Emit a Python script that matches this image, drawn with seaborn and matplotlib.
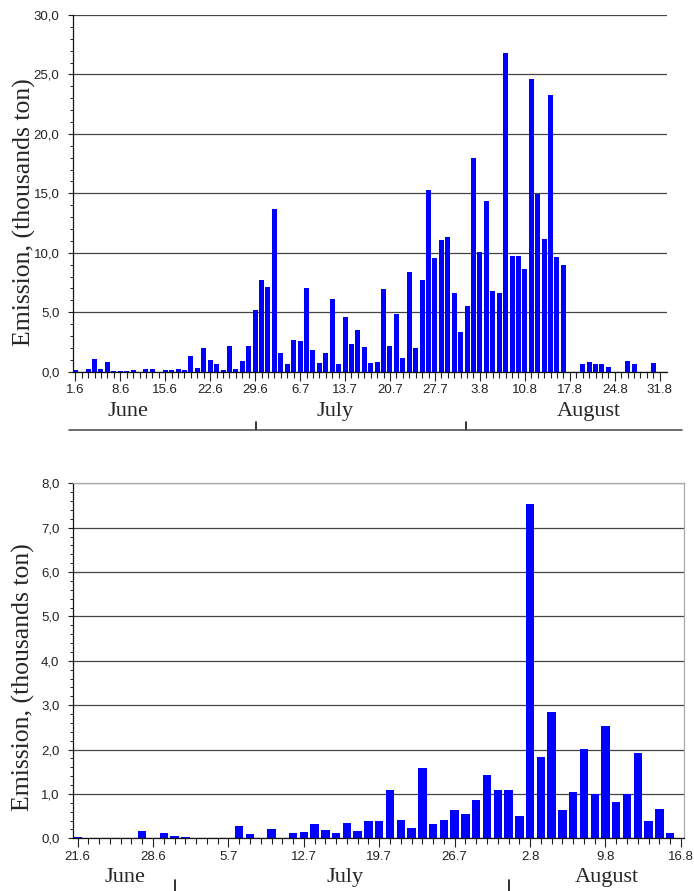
import numpy as np
import pandas as pd
import matplotlib
matplotlib.use("Agg")
import matplotlib.pyplot as plt
import seaborn as sns
from matplotlib.lines import Line2D
from matplotlib.ticker import FuncFormatter, MultipleLocator
from matplotlib.transforms import blended_transform_factory

# Datos: emisión diaria (miles de toneladas)
top_days = [f"{d.day}.{d.month}" for d in pd.date_range("2000-06-01", "2000-08-31")]
top_values = [
    0.15, 0, 0.2, 1.07, 0.25, 0.85, 0.08, 0.08, 0.08, 0.14,
    0, 0.22, 0.22, 0, 0.14, 0.11, 0.2, 0.11, 1.35, 0.3,
    2.0, 1.0, 0.62, 0.14, 2.19, 0.2, 0.9, 2.13, 5.16, 7.74,
    7.15, 13.65, 1.54, 0.67, 2.66, 2.58, 7.04, 1.82, 0.73, 1.54,
    6.08, 0.62, 4.63, 2.35, 3.53, 2.07, 0.72, 0.84, 6.92, 2.16,
    4.85, 1.18, 8.35, 2.0, 7.7, 15.25, 9.6, 11.07, 11.35, 6.59,
    3.34, 5.5, 18.0, 10.04, 14.38, 6.78, 6.59, 26.83, 9.76, 9.7,
    8.66, 24.59, 14.94, 11.16, 23.24, 9.64, 9.0, 0, 0, 0.64,
    0.84, 0.62, 0.62, 0.36, 0, 0, 0.9, 0.62, 0, 0,
    0.73, 0,
]
top_ticks = ["1.6", "8.6", "15.6", "22.6", "29.6", "6.7", "13.7",
             "20.7", "27.7", "3.8", "10.8", "17.8", "24.8", "31.8"]

bottom_days = [f"{d.day}.{d.month}" for d in pd.date_range("2000-06-21", "2000-08-16")]
bottom_values = [
    0.02, 0, 0, 0, 0, 0, 0.16, 0, 0.11, 0.06,
    0.02, 0, 0, 0.015, 0, 0.27, 0.09, 0, 0.2, 0,
    0.11, 0.14, 0.32, 0.19, 0.13, 0.35, 0.16, 0.38, 0.39, 1.10,
    0.42, 0.23, 1.58, 0.32, 0.42, 0.64, 0.55, 0.86, 1.42, 1.10,
    1.10, 0.5, 7.53, 1.84, 2.84, 0.64, 1.04, 2.01, 1.01, 2.54,
    0.83, 1.0, 1.92, 0.39, 0.67, 0.13, 0.015,
]
bottom_ticks = ["21.6", "28.6", "5.7", "12.7", "19.7", "26.7", "2.8", "9.8", "16.8"]

months = ["June", "July", "August"]

sns.set_style("white")
plt.rcParams["font.family"] = ["Liberation Sans", "DejaVu Sans"]
serif = ["Liberation Serif", "DejaVu Serif"]


def draw_panel(ax, days, values, ticks, ymax, ystep, yminor, xlim, label_y):
    df = pd.DataFrame({"day": days, "emission": values})
    sns.barplot(data=df, x="day", y="emission", color="#0000ff", saturation=1,
                width=0.78, linewidth=0, ax=ax)
    ax.set_xlim(*xlim)
    ax.set_ylim(0, ymax)
    ax.yaxis.set_major_locator(MultipleLocator(ystep))
    ax.yaxis.set_minor_locator(MultipleLocator(yminor))
    ax.yaxis.set_major_formatter(FuncFormatter(lambda v, p: f"{v:.1f}".replace(".", ",")))
    ax.set_xticks([days.index(t) for t in ticks])
    ax.set_xticklabels(ticks)
    ax.set_xticks(range(len(days)), minor=True)
    ax.grid(axis="y", which="major", color="#444444", linewidth=0.9)
    ax.grid(axis="x", visible=False)
    ax.set_axisbelow(True)
    ax.tick_params(axis="x", which="major", length=6.5, width=0.8, pad=2.5,
                   labelsize=9.5, color="#222222", labelcolor="#222222")
    ax.tick_params(axis="x", which="minor", length=4.3, width=0.8, color="#222222")
    ax.tick_params(axis="y", which="major", length=3.6, width=0.8, pad=6,
                   labelsize=9.5, color="#222222", labelcolor="#222222")
    ax.tick_params(axis="y", which="minor", length=2, width=0.7, color="#222222")
    ax.tick_params(bottom=True, left=True, which="both")
    for s in ["left", "bottom"]:
        ax.spines[s].set_color("#111111")
        ax.spines[s].set_linewidth(0.9)
    ax.set_xlabel("")
    ax.set_ylabel("Emission, (thousands ton)", family=serif, fontsize=18.5)
    ax.yaxis.set_label_coords(-0.062, label_y)


fig = plt.figure(figsize=(6.94, 8.91), dpi=100)
ax1 = fig.add_axes([0.1048, 0.5828, 0.856, 0.4004])
ax2 = fig.add_axes([0.1048, 0.0591, 0.881, 0.3985])

draw_panel(ax1, top_days, top_values, top_ticks, 30, 5, 1, (-0.4, 92.1), 0.448)
ax1.spines["top"].set_visible(False)
ax1.spines["right"].set_visible(False)

draw_panel(ax2, bottom_days, bottom_values, bottom_ticks, 8, 1, 0.2, (-0.45, 56.3), 0.454)
for s in ["top", "right"]:
    ax2.spines[s].set_color("#aaaaaa")
    ax2.spines[s].set_linewidth(0.9)

# Meses y separadores bajo cada eje
tr1 = blended_transform_factory(ax1.transData, fig.transFigure)
for name, x in zip(months, [8.2, 40.4, 80]):
    ax1.text(x, 0.5387, name, transform=tr1, ha="center", va="center",
             family=serif, fontsize=16)
for x in [28.2, 60.8]:
    fig.add_artist(Line2D([x, x], [0.5174, 0.5264], transform=tr1, color="#111111", lw=1.2))
fig.add_artist(Line2D([69 / 694, 682 / 694], [0.5174, 0.5174], transform=fig.transFigure,
                      color="#555555", lw=1.2))

tr2 = blended_transform_factory(ax2.transData, fig.transFigure)
for name, x in zip(months, [4.4, 24.8, 49.1]):
    ax2.text(x, 0.0146, name, transform=tr2, ha="center", va="center",
             family=serif, fontsize=16)
for x in [9.0, 40.0]:
    fig.add_artist(Line2D([x, x], [-0.005, 0.0123], transform=tr2, color="#111111", lw=1.2))

fig.savefig("out.png", dpi=100)
